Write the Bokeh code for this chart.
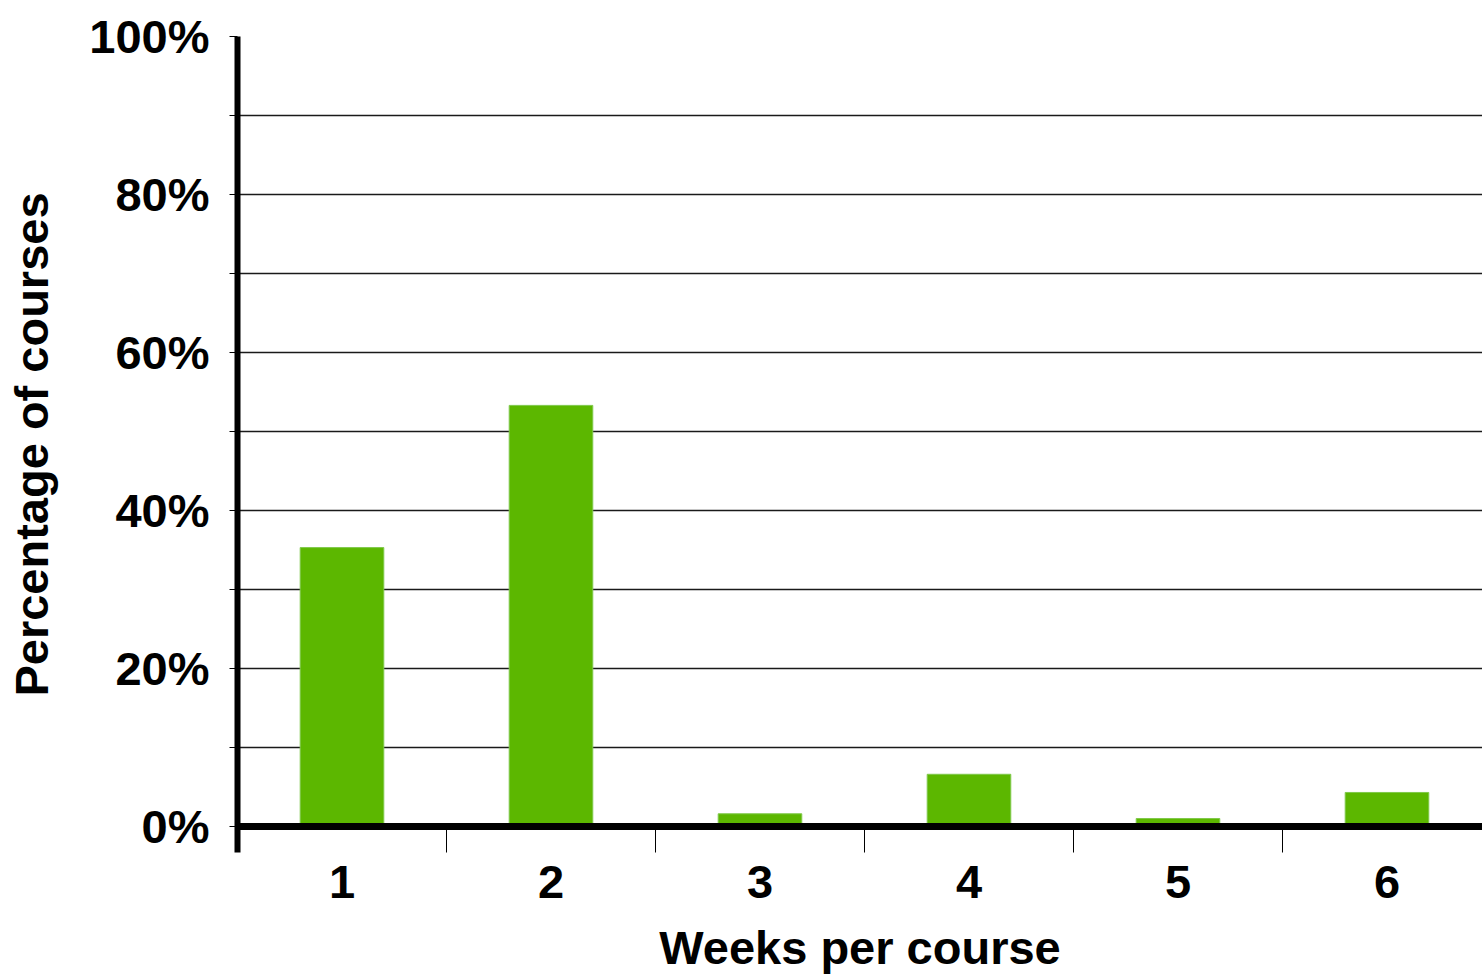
from bokeh.plotting import figure
from bokeh.models import FixedTicker, Range1d, Span
from bokeh.embed import file_html
from bokeh.resources import INLINE

# Share of courses by course length (weeks)
weeks = [1, 2, 3, 4, 5, 6]
week_labels = ["1", "2", "3", "4", "5", "6"]
pct_courses = [35.3, 53.3, 1.6, 6.6, 1.0, 4.3]

y_major = [0, 20, 40, 60, 80, 100]
y_minor = [10, 30, 50, 70, 90]
y_labels = ["0%", "20%", "40%", "60%", "80%", "100%"]

FONT = "Liberation Sans"
SIZE = "47px"

p = figure(
    width=1482, height=980,
    x_range=Range1d(0.5, 6.457), y_range=Range1d(-3.3, 100),
    output_backend="svg", toolbar_location=None,
    min_border_left=237, min_border_right=0,
    min_border_top=36, min_border_bottom=128,
)
p.outline_line_color = None
p.background_fill_color = "white"

# bars
p.vbar(x=weeks, top=pct_courses, bottom=0, width=0.4,
       fill_color="#5CB700", line_color="#7FC94A", line_width=1)

# baseline drawn as a heavy line at 0%
p.add_layout(Span(location=0, dimension="width", line_color="black", line_width=7))

# x axis: labels at week centres, separators between weeks
xa = p.xaxis[0]
xa.ticker = FixedTicker(ticks=weeks, minor_ticks=[w + 0.5 for w in weeks[:-1]])
xa.major_label_overrides = {w: lab for w, lab in zip(weeks, week_labels)}
xa.axis_line_color = None
xa.major_tick_line_color = None
xa.major_tick_in = 0
xa.major_tick_out = 0
xa.minor_tick_line_color = "black"
xa.minor_tick_line_width = 1
xa.minor_tick_in = 26
xa.minor_tick_out = 0
xa.major_label_standoff = 13
xa.major_label_text_font = FONT
xa.major_label_text_font_size = SIZE
xa.major_label_text_font_style = "bold"
xa.major_label_text_color = "black"
xa.axis_label = "Weeks per course"
xa.axis_label_text_font = FONT
xa.axis_label_text_font_size = SIZE
xa.axis_label_text_font_style = "bold"
xa.axis_label_text_color = "black"
xa.axis_label_standoff = 20

# y axis
ya = p.yaxis[0]
ya.ticker = FixedTicker(ticks=y_major, minor_ticks=y_minor)
ya.major_label_overrides = {v: lab for v, lab in zip(y_major, y_labels)}
ya.axis_line_color = "black"
ya.axis_line_width = 6
ya.major_tick_line_color = "black"
ya.major_tick_line_width = 1
ya.major_tick_in = 0
ya.major_tick_out = 8
ya.minor_tick_line_color = "black"
ya.minor_tick_line_width = 1
ya.minor_tick_in = 0
ya.minor_tick_out = 8
ya.major_label_standoff = 20
ya.major_label_text_font = FONT
ya.major_label_text_font_size = SIZE
ya.major_label_text_font_style = "bold"
ya.major_label_text_color = "black"
ya.axis_label = "Percentage of courses"
ya.axis_label_text_font = FONT
ya.axis_label_text_font_size = SIZE
ya.axis_label_text_font_style = "bold"
ya.axis_label_text_color = "black"
ya.axis_label_standoff = 28

# grid
p.xgrid.grid_line_color = None
p.ygrid.grid_line_color = "#1a1a1a"
p.ygrid.grid_line_width = 1.3
p.ygrid.minor_grid_line_color = "#1a1a1a"
p.ygrid.minor_grid_line_width = 1.3
p.ygrid.level = "underlay"

open("out.html", "w").write(file_html(p, INLINE))
